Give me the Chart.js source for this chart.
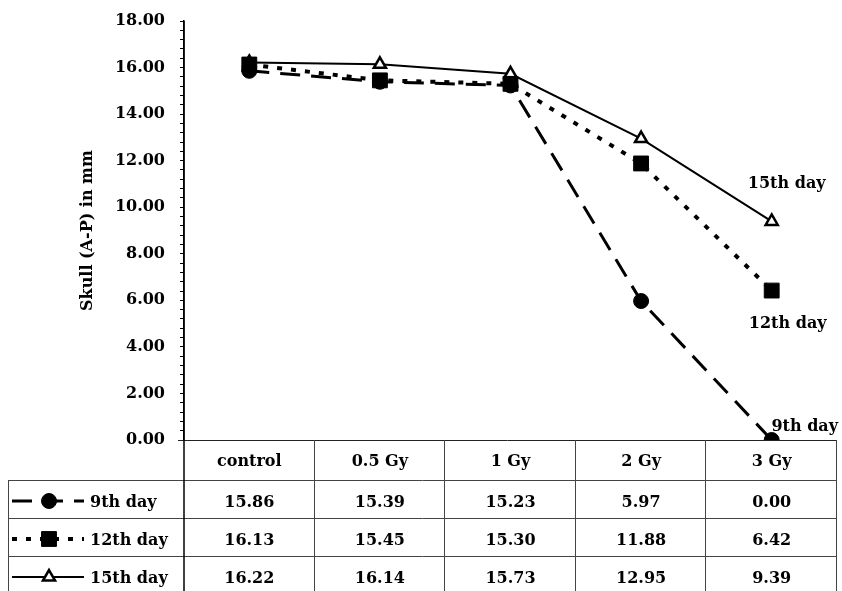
<!DOCTYPE html>
<html>
<head>
<meta charset="utf-8">
<script src="https://cdn.jsdelivr.net/npm/chart.js@4.4.1/dist/chart.umd.min.js"></script>
<style>
    html, body { margin: 0; padding: 0; background: #fff; }
</style>
</head>
<body>
<canvas id="skullChart" width="842" height="591"></canvas>
<script>
// ===========================
// Data
// ===========================

const doses = ['control', '0.5 Gy', '1 Gy', '2 Gy', '3 Gy'];
const seriesNames = ['9th day', '12th day', '15th day'];
const day9 = [15.86, 15.39, 15.23, 5.97, 0.00];
const day12 = [16.13, 15.45, 15.30, 11.88, 6.42];
const day15 = [16.22, 16.14, 15.73, 12.95, 9.39];
const yTitle = 'Skull (A-P) in mm';
const yMin = 0, yMax = 18, yMajorStep = 2, yMinorStep = 0.4;

const FONT = 'bold 16px "DejaVu Serif", serif';

// ===========================
// Data table + labels plugin
// ===========================

const tablePlugin = {
    id: 'dataTable',
    afterDraw(chart) {
        const ctx = chart.ctx;
        const area = chart.chartArea;
        const x = chart.scales.x;
        const band = (area.right - area.left) / doses.length;
        const headTop = area.bottom, headBottom = area.bottom + 40;
        const rowH = 38;
        const boxLeft = 8;

        ctx.save();
        ctx.strokeStyle = '#222';
        ctx.lineWidth = 1;

        // x axis line / table top
        ctx.beginPath();
        ctx.moveTo(area.left - 6, headTop + 0.5);
        ctx.lineTo(area.right, headTop + 0.5);
        ctx.stroke();

        // horizontal rules
        ctx.strokeStyle = '#444';
        for (let r = 0; r <= seriesNames.length; r++) {
            const yy = Math.round(headBottom + r * rowH) + 0.5;
            ctx.beginPath();
            ctx.moveTo(boxLeft, yy);
            ctx.lineTo(area.right, yy);
            ctx.stroke();
        }

        // verticals
        ctx.beginPath();
        ctx.moveTo(boxLeft + 0.5, headBottom);
        ctx.lineTo(boxLeft + 0.5, chart.height);
        for (let i = 1; i <= doses.length; i++) {
            const xx = Math.round(area.left + i * band) - 0.5;
            ctx.moveTo(xx, headTop);
            ctx.lineTo(xx, chart.height);
        }
        ctx.stroke();

        // y axis continued down
        ctx.strokeStyle = '#000';
        ctx.lineWidth = 1.5;
        ctx.beginPath();
        ctx.moveTo(area.left, area.top);
        ctx.lineTo(area.left, chart.height);
        ctx.stroke();

        // header + cells
        ctx.fillStyle = '#000';
        ctx.font = FONT;
        ctx.textAlign = 'center';
        ctx.textBaseline = 'middle';
        doses.forEach((d, i) => {
            const cx = x.getPixelForValue(i);
            ctx.fillText(d, cx, headTop + 22);
            chart.data.datasets.forEach((ds, r) => {
                ctx.fillText(ds.data[i].toFixed(2), cx, headBottom + r * rowH + 23);
            });
        });

        // legend samples in first column
        chart.data.datasets.forEach((ds, r) => {
            const cy = headBottom + r * rowH + 21;
            ctx.save();
            ctx.strokeStyle = '#000';
            ctx.lineWidth = ds.borderWidth;
            ctx.setLineDash(ds.borderDash || []);
            ctx.beginPath();
            ctx.moveTo(12, cy);
            ctx.lineTo(84, cy);
            ctx.stroke();
            ctx.setLineDash([]);
            ctx.fillStyle = ds.pointBackgroundColor;
            ctx.strokeStyle = ds.pointBorderColor;
            ctx.lineWidth = ds.pointBorderWidth;
            Chart.helpers.drawPoint(ctx, {
                pointStyle: ds.pointStyle,
                radius: ds.pointRadius,
                borderWidth: ds.pointBorderWidth
            }, 49, cy);
            ctx.restore();
            ctx.fillStyle = '#000';
            ctx.textAlign = 'left';
            ctx.fillText(seriesNames[r], 90, cy + 2);
        });

        // end-of-line labels
        const offsets = [[33, -13], [16, 33], [15, -38]];
        const last = doses.length - 1;
        ctx.textAlign = 'center';
        chart.data.datasets.forEach((ds, r) => {
            const meta = chart.getDatasetMeta(r);
            const pt = meta.data[last];
            ctx.fillText(seriesNames[r], pt.x + offsets[r][0], pt.y + offsets[r][1]);
        });

        // y title
        ctx.save();
        ctx.translate(88, (area.top + area.bottom) / 2);
        ctx.rotate(-Math.PI / 2);
        ctx.fillText(yTitle, 0, 0);
        ctx.restore();

        ctx.restore();
    }
};

// ===========================
// Chart
// ===========================

const ctx = document.getElementById('skullChart');

new Chart(ctx, {
    type: 'line',
    data: {
        labels: doses,
        datasets: [{
            label: seriesNames[0],
            data: day9,
            borderColor: '#000',
            borderWidth: 3,
            borderDash: [20, 11],
            pointStyle: 'circle',
            pointRadius: 7.5,
            pointBorderWidth: 1,
            pointBackgroundColor: '#000',
            pointBorderColor: '#000',
            tension: 0
        }, {
            label: seriesNames[1],
            data: day12,
            borderColor: '#000',
            borderWidth: 4,
            borderDash: [5, 9],
            pointStyle: 'rect',
            pointRadius: 10.5,
            pointBorderWidth: 1,
            pointBackgroundColor: '#000',
            pointBorderColor: '#000',
            tension: 0
        }, {
            label: seriesNames[2],
            data: day15,
            borderColor: '#000',
            borderWidth: 2,
            pointStyle: 'triangle',
            pointRadius: 7,
            pointBorderWidth: 2.5,
            pointBackgroundColor: '#fff',
            pointBorderColor: '#000',
            tension: 0
        }]
    },
    options: {
        responsive: false,
        animation: false,
        layout: {
            autoPadding: false,
            padding: { top: 21, right: 5, bottom: 151, left: 0 }
        },
        plugins: {
            legend: { display: false },
            tooltip: { enabled: false }
        },
        scales: {
            x: {
                type: 'category',
                offset: true,
                display: false
            },
            y: {
                min: yMin,
                max: yMax,
                afterFit(scale) {
                    scale.width = 184;
                    scale.paddingTop = 0;
                    scale.paddingBottom = 0;
                },
                border: { display: true, color: '#000', width: 1.5 },
                grid: {
                    drawOnChartArea: false,
                    drawTicks: true,
                    tickLength: 4,
                    color: '#000'
                },
                ticks: {
                    stepSize: yMinorStep,
                    autoSkip: false,
                    padding: 15,
                    color: '#000',
                    font: { family: '"DejaVu Serif", serif', size: 16, weight: 'bold' },
                    callback: function(value) {
                        const q = value / yMajorStep;
                        return Math.abs(q - Math.round(q)) < 1e-6 ? value.toFixed(2) : '';
                    }
                }
            }
        }
    },
    plugins: [tablePlugin]
});
</script>
</body>
</html>
